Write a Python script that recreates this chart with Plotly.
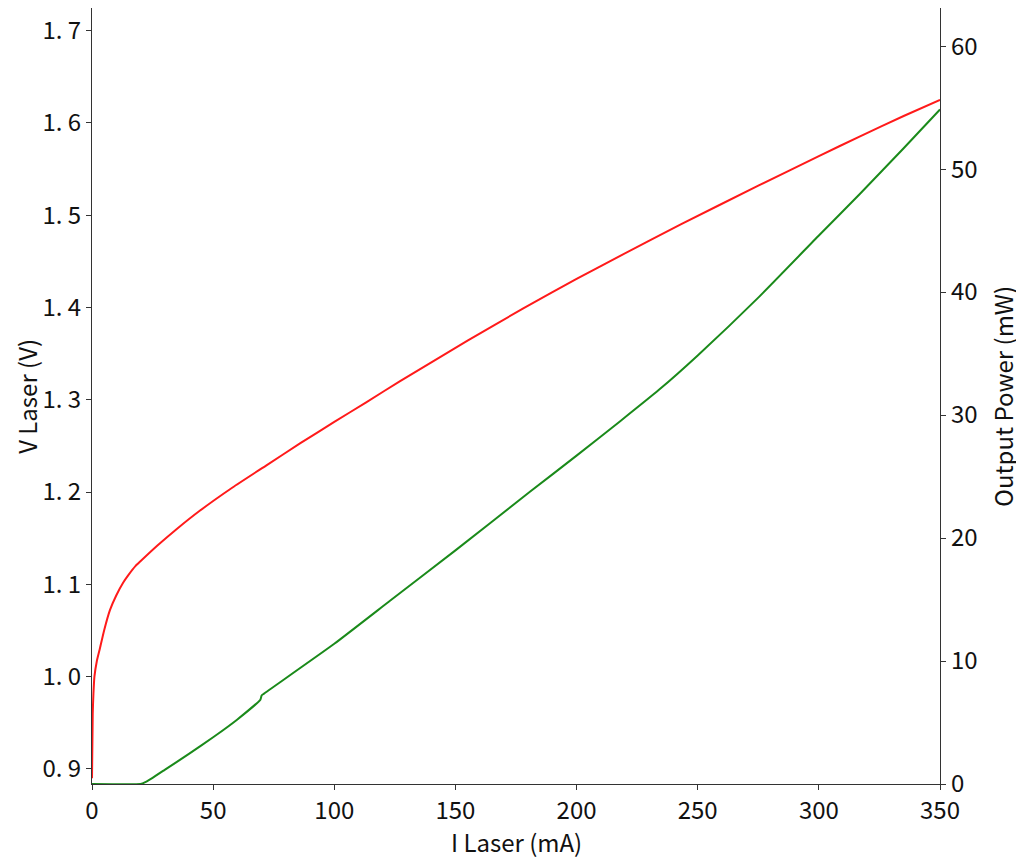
"""
LIV curve: laser voltage and output power vs drive current
"""
import plotly.graph_objects as go

# drive current (mA) and laser voltage (V)
i_v = [0, 0.3, 0.6, 1, 2, 3.3, 5, 7.4, 10, 12.9, 15, 18, 20, 27, 35, 44.6, 58, 72, 86,
       100, 113, 127, 155, 178, 200, 218, 243, 275, 300, 317, 335, 350]
v_laser = [0.89, 0.96, 0.982, 1.0, 1.017, 1.031, 1.05, 1.072, 1.088, 1.102, 1.110, 1.120,
           1.125, 1.142, 1.160, 1.180, 1.205, 1.229, 1.253, 1.276, 1.297, 1.320, 1.364,
           1.399, 1.431, 1.456, 1.490, 1.532, 1.564, 1.5855, 1.6075, 1.625]

# drive current (mA) and output power (mW)
i_p = [0, 20, 22, 25, 30, 40, 50, 60, 69.5, 70, 71, 100, 123, 150, 181, 200, 218, 234,
       250, 275, 300, 317, 335, 350]
p_out = [0, 0, 0.15, 0.5, 1.15, 2.45, 3.8, 5.25, 6.85, 7.2, 7.35, 11.4, 14.9, 19.0, 23.8,
         26.7, 29.5, 32.05, 34.85, 39.55, 44.6, 48.0, 51.7, 54.85]

x_ticks = [0, 50, 100, 150, 200, 250, 300, 350]
v_ticks = [0.9, 1.0, 1.1, 1.2, 1.3, 1.4, 1.5, 1.6, 1.7]
v_tick_text = ["0. 9", "1. 0", "1. 1", "1. 2", "1. 3", "1. 4", "1. 5", "1. 6", "1. 7"]
p_ticks = [0, 10, 20, 30, 40, 50, 60]

FONT = "Noto Sans CJK SC, DejaVu Sans, sans-serif"
AXIS = "#333333"

fig = go.Figure()
fig.add_trace(go.Scatter(x=i_v, y=v_laser, mode="lines", name="V Laser",
                         line=dict(color="#ff1a1a", width=2, shape="spline", smoothing=0.5)))
fig.add_trace(go.Scatter(x=i_p, y=p_out, mode="lines", name="Output Power", yaxis="y2",
                         line=dict(color="#1a8a1a", width=2, shape="spline", smoothing=0.4)))

axis_common = dict(showline=True, linecolor=AXIS, linewidth=1.2, ticks="outside",
                   ticklen=5, tickcolor=AXIS, showgrid=False, zeroline=False,
                   automargin=False, tickfont=dict(size=24, color="#111"))

fig.update_layout(
    width=1024, height=858,
    paper_bgcolor="white", plot_bgcolor="white",
    font=dict(family=FONT, size=24, color="#111"),
    margin=dict(l=84, r=92, t=0, b=82),
    showlegend=False,
    xaxis=dict(range=[0, 350], tickvals=x_ticks, mirror=True, **axis_common),
    yaxis=dict(range=[0.8837, 1.7245], tickvals=v_ticks, ticktext=v_tick_text, **axis_common),
    yaxis2=dict(range=[0, 63.1], tickvals=p_ticks, overlaying="y", side="right",
                **axis_common),
)

# axis titles placed as annotations so their offsets can be set exactly
title_font = dict(family=FONT, size=24, color="#111")
fig.add_annotation(text="I Laser (mA)", xref="paper", yref="paper", x=0.5, y=-0.0745,
                   xanchor="center", yanchor="middle", showarrow=False, font=title_font)
fig.add_annotation(text="V Laser (V)", xref="paper", yref="paper", x=-0.078, y=0.5,
                   xanchor="center", yanchor="middle", textangle=-90, showarrow=False,
                   font=title_font)
fig.add_annotation(text="Output Power (mW)", xref="paper", yref="paper", x=1.073, y=0.5,
                   xanchor="center", yanchor="middle", textangle=-90, showarrow=False,
                   font=title_font)

fig.write_html("out.html")
